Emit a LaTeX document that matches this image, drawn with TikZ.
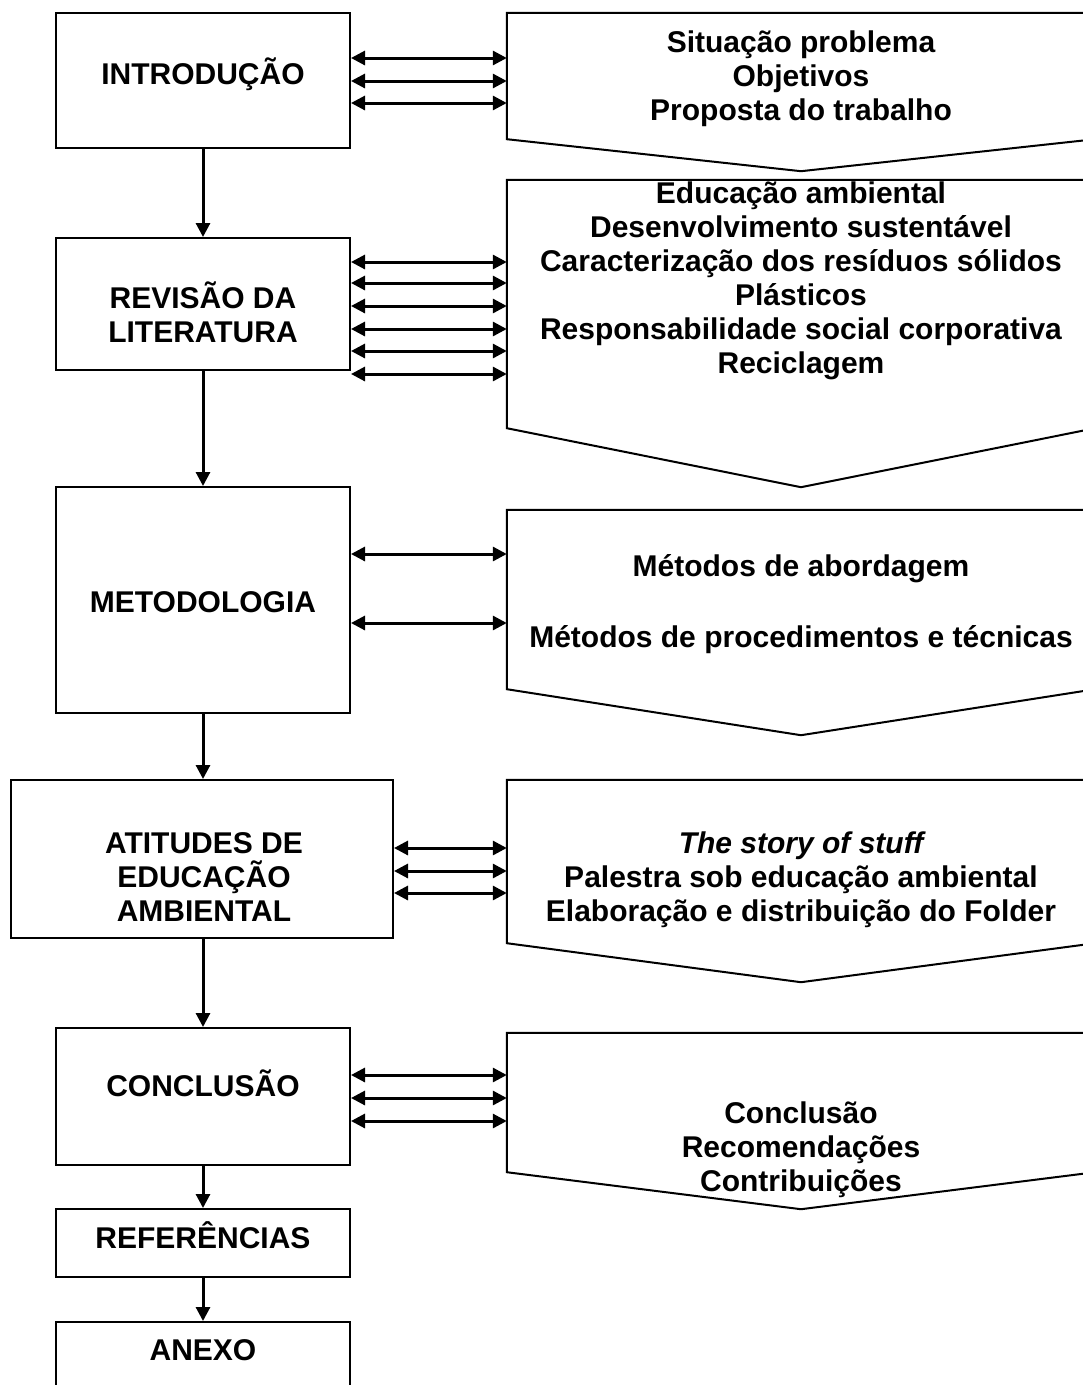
\documentclass[tikz,border=0pt]{standalone}
\usepackage{fontspec}
\setmainfont{Liberation Sans}
\usetikzlibrary{arrows.meta,calc}

\newcommand{\fonte}{\fontsize{30}{34}\selectfont\bfseries}

\begin{document}
\begin{tikzpicture}[
    x=1pt, y=-1pt,
    caixa/.style={
        rectangle,
        draw,
        line width=2pt,
        minimum width=294pt
    },
    bloco/.style={
        rectangle,
        minimum width=588pt,
        inner sep=0pt
    },
    lista/.style={align=center, font=\fonte},
    contorno/.style={line width=2pt, line join=miter},
    seta/.style={-{Triangle[length=14pt,width=14pt]}, line width=3pt},
    dupla/.style={{Triangle[length=14pt,width=14pt]}-{Triangle[length=14pt,width=14pt]}, line width=3pt}
]
\useasboundingbox (0,0) rectangle (1083,1385);
\clip (0,0) rectangle (1083,1385);

% etapas do trabalho
\node[caixa, minimum height=135pt] (intro) at (203,80.5) {};
\node[caixa, minimum height=132pt] (rev) at (203,304) {};
\node[caixa, minimum height=226pt] (met) at (203,600) {};
\node[caixa, minimum height=158pt, minimum width=382pt] (ati) at (202,859) {};
\node[caixa, minimum height=137pt] (conc) at (203,1096.5) {};
\node[caixa, minimum height=68pt] (refs) at (203,1243) {};
\node[caixa, minimum height=68pt] (anexo) at (203,1356) {};

\node[lista] (intro-txt) at (203,74.5) {INTRODUÇÃO};
\node[lista] (rev-txt) at (203,312) {REVISÃO DA\\LITERATURA};
\node[lista] (met-txt) at (203,602) {METODOLOGIA};
\node[lista] (ati-txt) at (204,877) {ATITUDES DE\\EDUCAÇÃO\\AMBIENTAL};
\node[lista] (conc-txt) at (203,1083.5) {CONCLUSÃO};
\node[lista] (refs-txt) at (203,1235) {REFERÊNCIAS};
\node[lista] (anexo-txt) at (203,1350) {ANEXO};

% blocos de conteudo
\node[bloco, minimum height=126pt] (p1) at (801,76) {};
\node[bloco, minimum height=248pt] (p2) at (801,304) {};
\node[bloco, minimum height=179pt] (p3) at (801,599.5) {};
\node[bloco, minimum height=163pt] (p4) at (801,861.5) {};
\node[bloco, minimum height=139pt] (p5) at (801,1102.5) {};

\foreach \p/\d in {p1/32,p2/59,p3/46,p4/39,p5/37}
    \draw[contorno] (\p.north west) -- (\p.north east) -- (\p.south east)
        -- ($(\p.south)+(0,\d)$) -- (\p.south west) -- cycle;

\node[lista] (t1) at (801,79) {Situação problema\\Objetivos\\Proposta do trabalho};
\node[lista] (t2) at (801,281) {Educação ambiental\\Desenvolvimento sustentável\\Caracterização dos resíduos sólidos\\Plásticos\\Responsabilidade social corporativa\\Reciclagem};
\node[lista] (t3) at (801,604) {Métodos de abordagem\\[37pt]Métodos de procedimentos e técnicas};
\node[lista] (t4) at (801,880) {\itshape The story of stuff\\Palestra sob educação ambiental\\Elaboração e distribuição do Folder};
\node[lista] (t5) at (801,1150) {Conclusão\\Recomendações\\Contribuições};

% sequencia
\draw[seta] (intro.south) -- (rev.north);
\draw[seta] (rev.south) -- (met.north);
\draw[seta] (met.south) -- (met.south |- ati.north);
\draw[seta] (met.south |- ati.south) -- (conc.north);
\draw[seta] (conc.south) -- (refs.north);
\draw[seta] (refs.south) -- (anexo.north);

% ligacoes
\foreach \y in {58,81,103}
    \draw[dupla] (intro.east |- 0,\y) -- (p1.west |- 0,\y);
\foreach \y in {262,283,306,329,351,374}
    \draw[dupla] (rev.east |- 0,\y) -- (p2.west |- 0,\y);
\foreach \y in {554,623}
    \draw[dupla] (met.east |- 0,\y) -- (p3.west |- 0,\y);
\foreach \y in {848,871,893}
    \draw[dupla] (ati.east |- 0,\y) -- (p4.west |- 0,\y);
\foreach \y in {1075,1098,1121}
    \draw[dupla] (conc.east |- 0,\y) -- (p5.west |- 0,\y);

\end{tikzpicture}
\end{document}
